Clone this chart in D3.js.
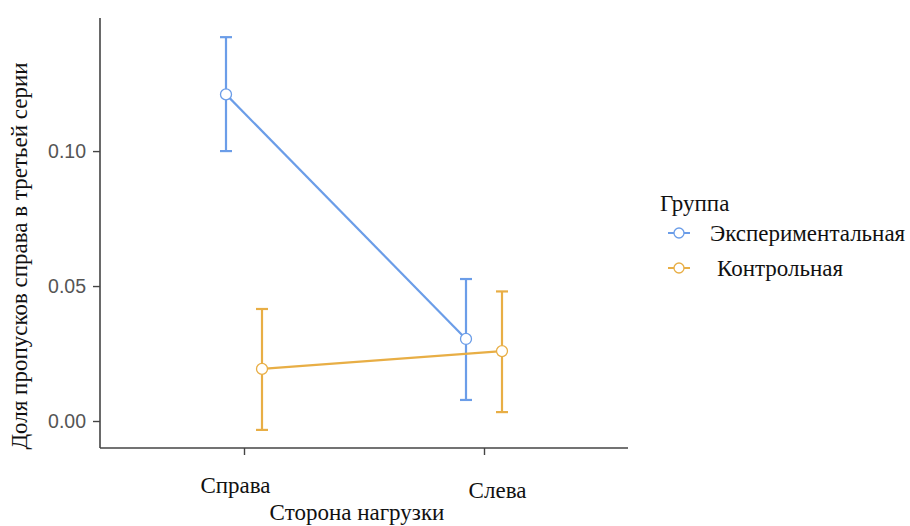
<!DOCTYPE html>
<html>
<head>
<meta charset="utf-8">
<title>Доля пропусков</title>
<script src="https://cdn.jsdelivr.net/npm/d3@7"></script>
<style>
  body { margin: 0; background: #fff; }
  svg { display: block; }
</style>
</head>
<body>
<svg id="chart" width="910" height="526"></svg>
<script>
// data
var sides = ["Справа", "Слева"];
var groups = ["Экспериментальная", "Контрольная"];
var groupColors = ["#6B9DE8", "#E8AE45"];
var means = [[0.121, 0.0304], [0.0193, 0.0259]];
var lower = [[0.100, 0.0078], [-0.0033, 0.0033]];
var upper = [[0.1422, 0.0526], [0.0415, 0.048]];
var yTicks = [0.00, 0.05, 0.10];

var svg = d3.select("#chart");
var serif = "Liberation Serif";
var sans = "Liberation Sans";

var x = d3.scalePoint().domain(sides).range([100, 628]).padding(0.6);
var dodge = d3.scalePoint().domain(groups).range([-18, 18]);
var y = d3.scaleLinear().domain([-0.01, 0.1493]).range([448, 18]);

// axes
var yAxis = svg.append("g").attr("transform", "translate(100,0)")
  .call(d3.axisLeft(y).tickValues(yTicks).tickFormat(d3.format(".2f")).tickSize(7).tickPadding(7));
yAxis.select(".domain").attr("stroke", "#444").attr("stroke-width", 1.6).attr("d", "M0," + y.range()[1] + "V" + y.range()[0]);
yAxis.selectAll(".tick line").attr("stroke", "#444").attr("stroke-width", 1.4);
yAxis.selectAll(".tick text").attr("fill", "#555").attr("font-family", sans).attr("font-size", 19.5);

var xAxis = svg.append("g").attr("transform", "translate(0,448)")
  .call(d3.axisBottom(x).tickSize(7).tickPadding(24));
xAxis.select(".domain").attr("stroke", "#444").attr("stroke-width", 1.6).attr("d", "M100,0H628");
xAxis.selectAll(".tick line").attr("stroke", "#444").attr("stroke-width", 1.4);
xAxis.selectAll(".tick text").attr("fill", "#111").attr("font-family", serif).attr("font-size", 23)
  .attr("dx", function(d, i) { return i === 0 ? -9 : 13; })
  .attr("dy", function(d, i) { return i === 0 ? "0.6em" : "0.82em"; });

// axis titles
svg.append("text").attr("transform", "translate(27,256) rotate(-90)")
  .attr("text-anchor", "middle").attr("font-family", serif).attr("font-size", 23).attr("fill", "#111")
  .text("Доля пропусков справа в третьей серии");
svg.append("text").attr("x", 357).attr("y", 520).attr("text-anchor", "middle")
  .attr("font-family", serif).attr("font-size", 23).attr("fill", "#111")
  .text("Сторона нагрузки");

// series
var line = d3.line().x(function(d) { return d.x; }).y(function(d) { return d.y; });

groups.forEach(function(g, gi) {
  var col = groupColors[gi];
  var pts = sides.map(function(s, si) {
    return { x: x(s) + dodge(g), y: y(means[gi][si]), lo: y(lower[gi][si]), hi: y(upper[gi][si]) };
  });
  var gg = svg.append("g");
  gg.selectAll("line.err").data(pts).enter().append("line")
    .attr("x1", function(d) { return d.x; }).attr("x2", function(d) { return d.x; })
    .attr("y1", function(d) { return d.lo; }).attr("y2", function(d) { return d.hi; })
    .attr("stroke", col).attr("stroke-width", 2.2);
  ["lo", "hi"].forEach(function(k) {
    gg.selectAll("line.cap" + k).data(pts).enter().append("line")
      .attr("x1", function(d) { return d.x - 6; }).attr("x2", function(d) { return d.x + 6; })
      .attr("y1", function(d) { return d[k]; }).attr("y2", function(d) { return d[k]; })
      .attr("stroke", col).attr("stroke-width", 2.2);
  });
  gg.append("path").datum(pts).attr("d", line).attr("fill", "none").attr("stroke", col).attr("stroke-width", 2.2);
  gg.selectAll("circle").data(pts).enter().append("circle")
    .attr("cx", function(d) { return d.x; }).attr("cy", function(d) { return d.y; }).attr("r", 5.5)
    .attr("fill", "#fff").attr("stroke", col).attr("stroke-width", 1.3);
});

// legend
svg.append("text").attr("x", 660).attr("y", 211).attr("font-family", serif).attr("font-size", 23)
  .attr("fill", "#111").text("Группа");
var legY = [233, 268];
var legX = [710, 717];
groups.forEach(function(g, gi) {
  var col = groupColors[gi];
  svg.append("line").attr("x1", 668).attr("x2", 690).attr("y1", legY[gi]).attr("y2", legY[gi])
    .attr("stroke", col).attr("stroke-width", 2);
  svg.append("circle").attr("cx", 679).attr("cy", legY[gi]).attr("r", 5)
    .attr("fill", "#fff").attr("stroke", col).attr("stroke-width", 1.3);
  svg.append("text").attr("x", legX[gi]).attr("y", legY[gi] + 8).attr("font-family", serif)
    .attr("font-size", 23).attr("fill", "#111").text(g);
});
</script>
</body>
</html>
